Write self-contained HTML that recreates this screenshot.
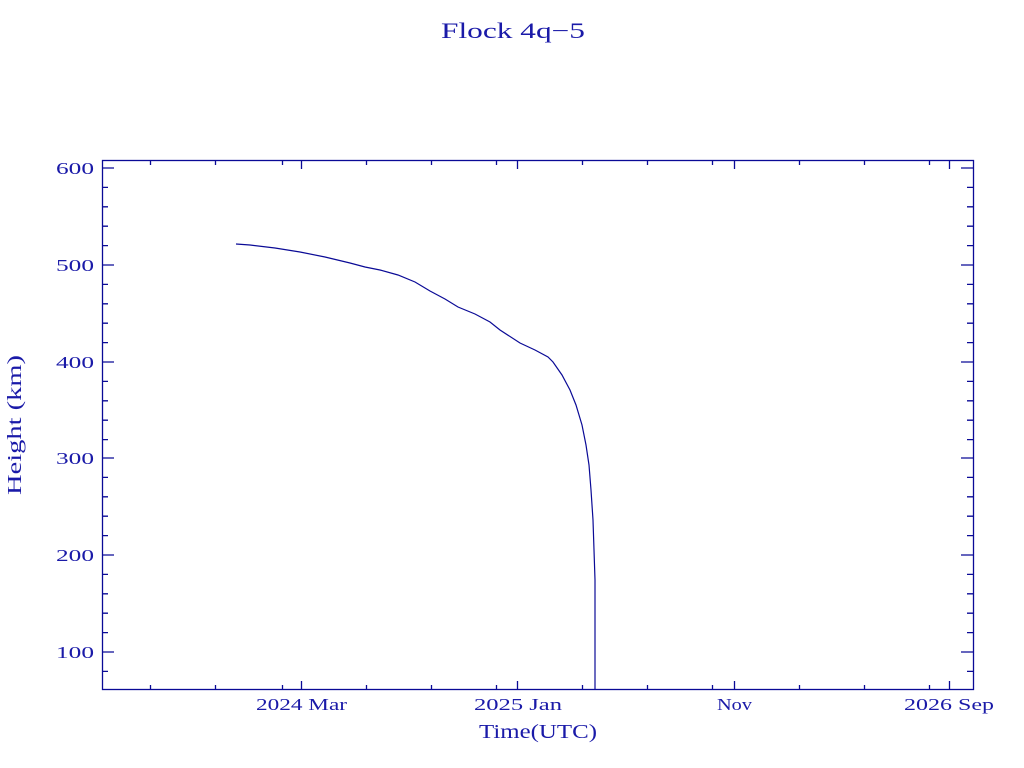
<!DOCTYPE html>
<html><head><style>body{margin:0;background:#fff}svg{display:block}</style></head><body>
<svg width="1024" height="768" xmlns="http://www.w3.org/2000/svg" font-family="Liberation Serif, serif" fill="#1a1aa8">
<text x="441" y="38" font-size="22" textLength="144" lengthAdjust="spacingAndGlyphs">Flock 4q−5</text>
<g stroke="#0a0a96" stroke-width="1.3" fill="none">
<rect x="102.5" y="160.5" width="871" height="529"/>
<path d="M102 168h12M102 265h12M102 362h12M102 458h12M102 555h12M102 652h12"/>
<path d="M102 187.4h6M102 206.8h6M102 226.2h6M102 245.6h6M102 284.4h6M102 303.8h6M102 323.2h6M102 342.6h6M102 381.4h6M102 400.8h6M102 420.2h6M102 439.6h6M102 477.4h6M102 496.8h6M102 516.2h6M102 535.6h6M102 574.4h6M102 593.8h6M102 613.2h6M102 632.6h6M102 671.4h6"/>
<path d="M973 168h-12M973 265h-12M973 362h-12M973 458h-12M973 555h-12M973 652h-12"/>
<path d="M973 187.4h-6M973 206.8h-6M973 226.2h-6M973 245.6h-6M973 284.4h-6M973 303.8h-6M973 323.2h-6M973 342.6h-6M973 381.4h-6M973 400.8h-6M973 420.2h-6M973 439.6h-6M973 477.4h-6M973 496.8h-6M973 516.2h-6M973 535.6h-6M973 574.4h-6M973 593.8h-6M973 613.2h-6M973 632.6h-6M973 671.4h-6"/>
<path d="M301.5 690v-9M517.5 690v-9M734.5 690v-9M949.5 690v-9M301.5 160v9M517.5 160v9M734.5 160v9M949.5 160v9"/>
<path d="M150.5 690v-5M215.5 690v-5M282.5 690v-5M366.5 690v-5M431.5 690v-5M496.5 690v-5M582.5 690v-5M647.5 690v-5M712.5 690v-5M799.5 690v-5M864.5 690v-5M929.5 690v-5M150.5 160v5M215.5 160v5M282.5 160v5M366.5 160v5M431.5 160v5M496.5 160v5M582.5 160v5M647.5 160v5M712.5 160v5M799.5 160v5M864.5 160v5M929.5 160v5"/>
<polyline stroke-width="1.2" points="236,244 250,245 275,248 300,252 325,257 350,263 365,267 380,270 398,275 415,282 430,291 445,299 458,307 475,314 490,322 500,330 520,343 535,350 548,357 553,362 562,375 570,390 576,405 582,425 586,445 589,465 591,490 593,520 594,550 595,580 595,690"/>
</g>
<g font-size="17">
<text x="56" y="174" textLength="38" lengthAdjust="spacingAndGlyphs">600</text>
<text x="56" y="271" textLength="38" lengthAdjust="spacingAndGlyphs">500</text>
<text x="56" y="368" textLength="38" lengthAdjust="spacingAndGlyphs">400</text>
<text x="56" y="464" textLength="38" lengthAdjust="spacingAndGlyphs">300</text>
<text x="56" y="561" textLength="38" lengthAdjust="spacingAndGlyphs">200</text>
<text x="56" y="658" textLength="38" lengthAdjust="spacingAndGlyphs">100</text>
<text x="256" y="710" textLength="91" lengthAdjust="spacingAndGlyphs">2024 Mar</text>
<text x="474" y="710" textLength="88" lengthAdjust="spacingAndGlyphs">2025 Jan</text>
<text x="717" y="710" textLength="35" lengthAdjust="spacingAndGlyphs">Nov</text>
<text x="904" y="710" textLength="90" lengthAdjust="spacingAndGlyphs">2026 Sep</text>
</g>
<text x="479" y="738" font-size="20" textLength="118" lengthAdjust="spacingAndGlyphs">Time(UTC)</text>
<text transform="translate(21,495) rotate(-90)" font-size="20" textLength="140" lengthAdjust="spacingAndGlyphs">Height (km)</text>
</svg>
</body></html>
